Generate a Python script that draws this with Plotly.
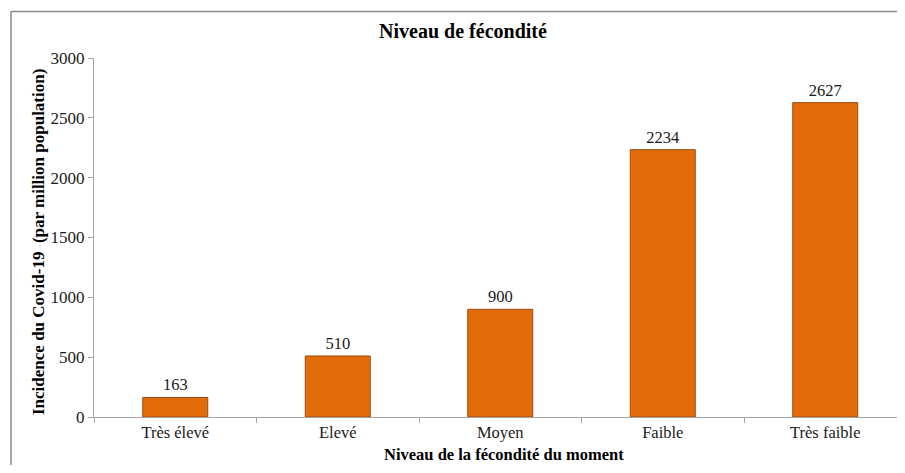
import plotly.graph_objects as go

categories = ["Très élevé", "Elevé", "Moyen", "Faible", "Très faible"]
values = [163, 510, 900, 2234, 2627]
y_ticks = [0, 500, 1000, 1500, 2000, 2500, 3000]

OFF = 8  # browser default body margin
W, H = 905 - 2 * OFF, 473 - 2 * OFF
L, T = 94 - OFF, 58 - OFF
R = 0
B = H - (417 - OFF)
pw, ph = W - L - R, H - T - B
cat_px = 162.5


def px(x):
    return (x - OFF - L) / pw


def py(y):
    return (H - B - (y - OFF)) / ph


fig = go.Figure(go.Bar(
    x=categories, y=values, width=0.4,
    marker=dict(color="#E36C0A", line=dict(color="#9A4A10", width=1)),
    text=[str(v) for v in values], textposition="outside",
    textfont=dict(family="Liberation Serif", size=16.5, color="#1a1a1a"),
    cliponaxis=False,
))

axis_col = "#A6A6A6"
frame_line = dict(color="#8a8a8a", width=1.5)
fig.update_layout(
    width=W, height=H,
    margin=dict(l=L, r=R, t=T, b=B, autoexpand=False),
    plot_bgcolor="white", paper_bgcolor="white",
    font=dict(family="Liberation Serif", size=16, color="#1a1a1a"),
    showlegend=False,
    title=dict(text="<b>Niveau de fécondité</b>", x=(463 - OFF) / W, xanchor="center",
               xref="container", y=1 - (31 - OFF) / H, yanchor="middle", yref="container",
               font=dict(size=20, family="Liberation Serif", color="black")),
    xaxis=dict(range=[-0.5, -0.5 + pw / cat_px],
               showline=True, linecolor=axis_col, linewidth=1,
               ticks="outside", tickson="boundaries", ticklen=5, tickcolor=axis_col,
               showgrid=False, zeroline=False, automargin=False,
               tickfont=dict(size=16.5)),
    yaxis=dict(range=[0, 3000], tickvals=y_ticks, showline=True, linecolor=axis_col,
               linewidth=1, ticks="outside", ticklen=5, tickcolor=axis_col,
               showgrid=False, zeroline=False, automargin=False,
               tickfont=dict(size=17)),
    annotations=[
        dict(text="<b>Niveau de la fécondité du moment</b>", xref="paper", yref="paper",
             x=px(504), y=py(454), xanchor="center", yanchor="middle",
             showarrow=False, font=dict(size=16.5, family="Liberation Serif", color="black")),
        dict(text="<b>Incidence du Covid-19  (par million population)</b>", xref="paper",
             yref="paper", x=px(38), y=py(242), xanchor="center",
             yanchor="middle", textangle=-90, showarrow=False,
             font=dict(size=17, family="Liberation Serif", color="black")),
    ],
    shapes=[
        dict(type="line", xref="paper", yref="paper",
             x0=px(11), x1=px(11), y0=py(480), y1=py(11.5), line=frame_line),
        dict(type="line", xref="paper", yref="paper",
             x0=px(11), x1=px(920), y0=py(11.5), y1=py(11.5), line=frame_line),
    ],
)

fig.write_html("out.html")
